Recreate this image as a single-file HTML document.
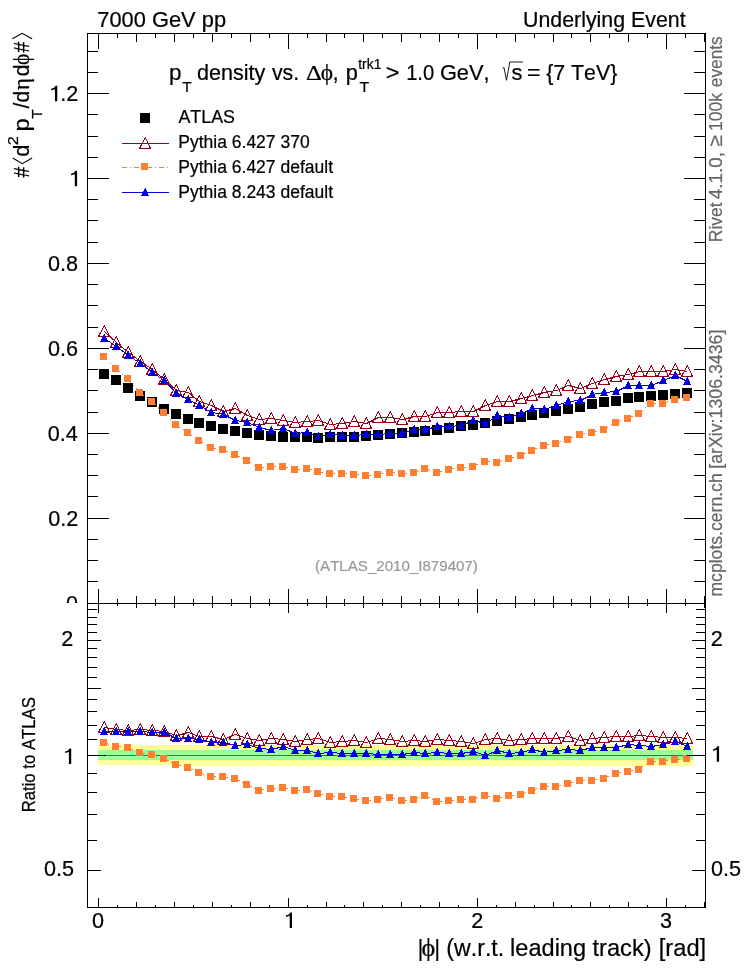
<!DOCTYPE html>
<html><head><meta charset="utf-8"><title>plot</title><style>html,body{margin:0;padding:0;background:#fff}body{width:746px;height:972px;overflow:hidden}svg{will-change:transform;opacity:0.999}</style></head><body>
<svg width="746" height="972" viewBox="0 0 746 972" style="display:block;font-family:'Liberation Sans',sans-serif;font-kerning:none">
<rect width="746" height="972" fill="#fff"/>
<path d="M98,745 H693 V766 H170 V765 H98 Z" fill="#FFFF99" shape-rendering="crispEdges"/>
<rect x="98" y="750" width="595" height="10" fill="#99FF99" shape-rendering="crispEdges"/>
<g shape-rendering="crispEdges">
<rect x="99" y="369" width="10" height="10" fill="#000"/>
<rect x="111" y="375" width="10" height="10" fill="#000"/>
<rect x="123" y="383" width="10" height="10" fill="#000"/>
<rect x="135" y="391" width="10" height="10" fill="#000"/>
<rect x="147" y="397" width="10" height="10" fill="#000"/>
<rect x="159" y="404" width="10" height="10" fill="#000"/>
<rect x="171" y="409" width="10" height="10" fill="#000"/>
<rect x="183" y="414" width="10" height="10" fill="#000"/>
<rect x="194" y="418" width="10" height="10" fill="#000"/>
<rect x="206" y="421" width="10" height="10" fill="#000"/>
<rect x="218" y="424" width="10" height="10" fill="#000"/>
<rect x="230" y="426" width="10" height="10" fill="#000"/>
<rect x="242" y="428" width="10" height="10" fill="#000"/>
<rect x="254" y="430" width="10" height="10" fill="#000"/>
<rect x="266" y="431" width="10" height="10" fill="#000"/>
<rect x="278" y="432" width="10" height="10" fill="#000"/>
<rect x="290" y="432" width="10" height="10" fill="#000"/>
<rect x="302" y="432" width="10" height="10" fill="#000"/>
<rect x="313" y="433" width="10" height="10" fill="#000"/>
<rect x="325" y="432" width="10" height="10" fill="#000"/>
<rect x="337" y="432" width="10" height="10" fill="#000"/>
<rect x="349" y="432" width="10" height="10" fill="#000"/>
<rect x="361" y="431" width="10" height="10" fill="#000"/>
<rect x="373" y="430" width="10" height="10" fill="#000"/>
<rect x="385" y="429" width="10" height="10" fill="#000"/>
<rect x="397" y="428" width="10" height="10" fill="#000"/>
<rect x="409" y="427" width="10" height="10" fill="#000"/>
<rect x="420" y="426" width="10" height="10" fill="#000"/>
<rect x="432" y="425" width="10" height="10" fill="#000"/>
<rect x="444" y="423" width="10" height="10" fill="#000"/>
<rect x="456" y="421" width="10" height="10" fill="#000"/>
<rect x="468" y="420" width="10" height="10" fill="#000"/>
<rect x="480" y="418" width="10" height="10" fill="#000"/>
<rect x="492" y="416" width="10" height="10" fill="#000"/>
<rect x="504" y="414" width="10" height="10" fill="#000"/>
<rect x="516" y="412" width="10" height="10" fill="#000"/>
<rect x="527" y="410" width="10" height="10" fill="#000"/>
<rect x="539" y="408" width="10" height="10" fill="#000"/>
<rect x="551" y="406" width="10" height="10" fill="#000"/>
<rect x="563" y="404" width="10" height="10" fill="#000"/>
<rect x="575" y="402" width="10" height="10" fill="#000"/>
<rect x="587" y="399" width="10" height="10" fill="#000"/>
<rect x="599" y="397" width="10" height="10" fill="#000"/>
<rect x="611" y="396" width="10" height="10" fill="#000"/>
<rect x="623" y="393" width="10" height="10" fill="#000"/>
<rect x="634" y="392" width="10" height="10" fill="#000"/>
<rect x="646" y="391" width="10" height="10" fill="#000"/>
<rect x="658" y="390" width="10" height="10" fill="#000"/>
<rect x="670" y="389" width="10" height="10" fill="#000"/>
<rect x="682" y="388" width="10" height="10" fill="#000"/>
<polyline points="104.5,331.5 116.5,342.5 128.5,352.5 140.5,361.5 152.5,369.5 164.5,379.5 176.5,390.5 188.5,392.5 199.5,401.5 211.5,405.5 223.5,411.5 235.5,408.5 247.5,415.5 259.5,419.5 271.5,418.5 283.5,420.5 295.5,422.5 307.5,421.5 318.5,420.5 330.5,424.5 342.5,423.5 354.5,421.5 366.5,423.5 378.5,417.5 390.5,417.5 402.5,419.5 414.5,416.5 425.5,416.5 437.5,412.5 449.5,412.5 461.5,411.5 473.5,411.5 485.5,405.5 497.5,401.5 509.5,401.5 521.5,398.5 532.5,395.5 544.5,392.5 556.5,390.5 568.5,385.5 580.5,388.5 592.5,383.5 604.5,379.5 616.5,376.5 628.5,374.5 639.5,371.5 651.5,371.5 663.5,371.5 675.5,369.5 687.5,371.5" fill="none" stroke="#99001A" stroke-width="1" />
<polygon points="98.5,336.5 109.5,336.5 104.3,325.5" fill="none" stroke="#99001A" stroke-width="1"/>
<polygon points="110.5,347.5 121.5,347.5 116.3,336.5" fill="none" stroke="#99001A" stroke-width="1"/>
<polygon points="122.5,357.5 133.5,357.5 128.3,346.5" fill="none" stroke="#99001A" stroke-width="1"/>
<polygon points="134.5,366.5 145.5,366.5 140.3,355.5" fill="none" stroke="#99001A" stroke-width="1"/>
<polygon points="146.5,374.5 157.5,374.5 152.3,363.5" fill="none" stroke="#99001A" stroke-width="1"/>
<polygon points="158.5,384.5 169.5,384.5 164.3,373.5" fill="none" stroke="#99001A" stroke-width="1"/>
<polygon points="170.5,395.5 181.5,395.5 176.3,384.5" fill="none" stroke="#99001A" stroke-width="1"/>
<polygon points="182.5,397.5 193.5,397.5 188.3,386.5" fill="none" stroke="#99001A" stroke-width="1"/>
<polygon points="193.5,406.5 204.5,406.5 199.3,395.5" fill="none" stroke="#99001A" stroke-width="1"/>
<polygon points="205.5,410.5 216.5,410.5 211.3,399.5" fill="none" stroke="#99001A" stroke-width="1"/>
<polygon points="217.5,416.5 228.5,416.5 223.3,405.5" fill="none" stroke="#99001A" stroke-width="1"/>
<polygon points="229.5,413.5 240.5,413.5 235.3,402.5" fill="none" stroke="#99001A" stroke-width="1"/>
<polygon points="241.5,420.5 252.5,420.5 247.3,409.5" fill="none" stroke="#99001A" stroke-width="1"/>
<polygon points="253.5,424.5 264.5,424.5 259.3,413.5" fill="none" stroke="#99001A" stroke-width="1"/>
<polygon points="265.5,423.5 276.5,423.5 271.3,412.5" fill="none" stroke="#99001A" stroke-width="1"/>
<polygon points="277.5,425.5 288.5,425.5 283.3,414.5" fill="none" stroke="#99001A" stroke-width="1"/>
<polygon points="289.5,427.5 300.5,427.5 295.3,416.5" fill="none" stroke="#99001A" stroke-width="1"/>
<polygon points="301.5,426.5 312.5,426.5 307.3,415.5" fill="none" stroke="#99001A" stroke-width="1"/>
<polygon points="312.5,425.5 323.5,425.5 318.3,414.5" fill="none" stroke="#99001A" stroke-width="1"/>
<polygon points="324.5,429.5 335.5,429.5 330.3,418.5" fill="none" stroke="#99001A" stroke-width="1"/>
<polygon points="336.5,428.5 347.5,428.5 342.3,417.5" fill="none" stroke="#99001A" stroke-width="1"/>
<polygon points="348.5,426.5 359.5,426.5 354.3,415.5" fill="none" stroke="#99001A" stroke-width="1"/>
<polygon points="360.5,428.5 371.5,428.5 366.3,417.5" fill="none" stroke="#99001A" stroke-width="1"/>
<polygon points="372.5,422.5 383.5,422.5 378.3,411.5" fill="none" stroke="#99001A" stroke-width="1"/>
<polygon points="384.5,422.5 395.5,422.5 390.3,411.5" fill="none" stroke="#99001A" stroke-width="1"/>
<polygon points="396.5,424.5 407.5,424.5 402.3,413.5" fill="none" stroke="#99001A" stroke-width="1"/>
<polygon points="408.5,421.5 419.5,421.5 414.3,410.5" fill="none" stroke="#99001A" stroke-width="1"/>
<polygon points="419.5,421.5 430.5,421.5 425.3,410.5" fill="none" stroke="#99001A" stroke-width="1"/>
<polygon points="431.5,417.5 442.5,417.5 437.3,406.5" fill="none" stroke="#99001A" stroke-width="1"/>
<polygon points="443.5,417.5 454.5,417.5 449.3,406.5" fill="none" stroke="#99001A" stroke-width="1"/>
<polygon points="455.5,416.5 466.5,416.5 461.3,405.5" fill="none" stroke="#99001A" stroke-width="1"/>
<polygon points="467.5,416.5 478.5,416.5 473.3,405.5" fill="none" stroke="#99001A" stroke-width="1"/>
<polygon points="479.5,410.5 490.5,410.5 485.3,399.5" fill="none" stroke="#99001A" stroke-width="1"/>
<polygon points="491.5,406.5 502.5,406.5 497.3,395.5" fill="none" stroke="#99001A" stroke-width="1"/>
<polygon points="503.5,406.5 514.5,406.5 509.3,395.5" fill="none" stroke="#99001A" stroke-width="1"/>
<polygon points="515.5,403.5 526.5,403.5 521.3,392.5" fill="none" stroke="#99001A" stroke-width="1"/>
<polygon points="526.5,400.5 537.5,400.5 532.3,389.5" fill="none" stroke="#99001A" stroke-width="1"/>
<polygon points="538.5,397.5 549.5,397.5 544.3,386.5" fill="none" stroke="#99001A" stroke-width="1"/>
<polygon points="550.5,395.5 561.5,395.5 556.3,384.5" fill="none" stroke="#99001A" stroke-width="1"/>
<polygon points="562.5,390.5 573.5,390.5 568.3,379.5" fill="none" stroke="#99001A" stroke-width="1"/>
<polygon points="574.5,393.5 585.5,393.5 580.3,382.5" fill="none" stroke="#99001A" stroke-width="1"/>
<polygon points="586.5,388.5 597.5,388.5 592.3,377.5" fill="none" stroke="#99001A" stroke-width="1"/>
<polygon points="598.5,384.5 609.5,384.5 604.3,373.5" fill="none" stroke="#99001A" stroke-width="1"/>
<polygon points="610.5,381.5 621.5,381.5 616.3,370.5" fill="none" stroke="#99001A" stroke-width="1"/>
<polygon points="622.5,379.5 633.5,379.5 628.3,368.5" fill="none" stroke="#99001A" stroke-width="1"/>
<polygon points="633.5,376.5 644.5,376.5 639.3,365.5" fill="none" stroke="#99001A" stroke-width="1"/>
<polygon points="645.5,376.5 656.5,376.5 651.3,365.5" fill="none" stroke="#99001A" stroke-width="1"/>
<polygon points="657.5,376.5 668.5,376.5 663.3,365.5" fill="none" stroke="#99001A" stroke-width="1"/>
<polygon points="669.5,374.5 680.5,374.5 675.3,363.5" fill="none" stroke="#99001A" stroke-width="1"/>
<polygon points="681.5,376.5 692.5,376.5 687.3,365.5" fill="none" stroke="#99001A" stroke-width="1"/>
<line x1="103.5" y1="356.5" x2="115.5" y2="368.5" stroke="#FF7F32" stroke-width="1" stroke-dasharray="5.6 3.2 1.3 3"/>
<line x1="115.5" y1="368.5" x2="127.5" y2="378.5" stroke="#FF7F32" stroke-width="1" stroke-dasharray="5.6 3.2 1.3 3"/>
<line x1="127.5" y1="378.5" x2="139.5" y2="392.5" stroke="#FF7F32" stroke-width="1" stroke-dasharray="5.6 3.2 1.3 3"/>
<line x1="139.5" y1="392.5" x2="151.5" y2="401.5" stroke="#FF7F32" stroke-width="1" stroke-dasharray="5.6 3.2 1.3 3"/>
<line x1="151.5" y1="401.5" x2="163.5" y2="412.5" stroke="#FF7F32" stroke-width="1" stroke-dasharray="5.6 3.2 1.3 3"/>
<line x1="163.5" y1="412.5" x2="175.5" y2="424.5" stroke="#FF7F32" stroke-width="1" stroke-dasharray="5.6 3.2 1.3 3"/>
<line x1="175.5" y1="424.5" x2="187.5" y2="432.5" stroke="#FF7F32" stroke-width="1" stroke-dasharray="5.6 3.2 1.3 3"/>
<line x1="187.5" y1="432.5" x2="198.5" y2="440.5" stroke="#FF7F32" stroke-width="1" stroke-dasharray="5.6 3.2 1.3 3"/>
<line x1="198.5" y1="440.5" x2="210.5" y2="447.5" stroke="#FF7F32" stroke-width="1" stroke-dasharray="5.6 3.2 1.3 3"/>
<line x1="210.5" y1="447.5" x2="222.5" y2="449.5" stroke="#FF7F32" stroke-width="1" stroke-dasharray="5.6 3.2 1.3 3"/>
<line x1="222.5" y1="449.5" x2="234.5" y2="454.5" stroke="#FF7F32" stroke-width="1" stroke-dasharray="5.6 3.2 1.3 3"/>
<line x1="234.5" y1="454.5" x2="246.5" y2="460.5" stroke="#FF7F32" stroke-width="1" stroke-dasharray="5.6 3.2 1.3 3"/>
<line x1="246.5" y1="460.5" x2="258.5" y2="467.5" stroke="#FF7F32" stroke-width="1" stroke-dasharray="5.6 3.2 1.3 3"/>
<line x1="258.5" y1="467.5" x2="270.5" y2="466.5" stroke="#FF7F32" stroke-width="1" stroke-dasharray="5.6 3.2 1.3 3"/>
<line x1="270.5" y1="466.5" x2="282.5" y2="466.5" stroke="#FF7F32" stroke-width="1" stroke-dasharray="5.6 3.2 1.3 3"/>
<line x1="282.5" y1="466.5" x2="294.5" y2="469.5" stroke="#FF7F32" stroke-width="1" stroke-dasharray="5.6 3.2 1.3 3"/>
<line x1="294.5" y1="469.5" x2="306.5" y2="468.5" stroke="#FF7F32" stroke-width="1" stroke-dasharray="5.6 3.2 1.3 3"/>
<line x1="306.5" y1="468.5" x2="317.5" y2="471.5" stroke="#FF7F32" stroke-width="1" stroke-dasharray="5.6 3.2 1.3 3"/>
<line x1="317.5" y1="471.5" x2="329.5" y2="473.5" stroke="#FF7F32" stroke-width="1" stroke-dasharray="5.6 3.2 1.3 3"/>
<line x1="329.5" y1="473.5" x2="341.5" y2="473.5" stroke="#FF7F32" stroke-width="1" stroke-dasharray="5.6 3.2 1.3 3"/>
<line x1="341.5" y1="473.5" x2="353.5" y2="474.5" stroke="#FF7F32" stroke-width="1" stroke-dasharray="5.6 3.2 1.3 3"/>
<line x1="353.5" y1="474.5" x2="365.5" y2="475.5" stroke="#FF7F32" stroke-width="1" stroke-dasharray="5.6 3.2 1.3 3"/>
<line x1="365.5" y1="475.5" x2="377.5" y2="474.5" stroke="#FF7F32" stroke-width="1" stroke-dasharray="5.6 3.2 1.3 3"/>
<line x1="377.5" y1="474.5" x2="389.5" y2="472.5" stroke="#FF7F32" stroke-width="1" stroke-dasharray="5.6 3.2 1.3 3"/>
<line x1="389.5" y1="472.5" x2="401.5" y2="473.5" stroke="#FF7F32" stroke-width="1" stroke-dasharray="5.6 3.2 1.3 3"/>
<line x1="401.5" y1="473.5" x2="413.5" y2="472.5" stroke="#FF7F32" stroke-width="1" stroke-dasharray="5.6 3.2 1.3 3"/>
<line x1="413.5" y1="472.5" x2="424.5" y2="468.5" stroke="#FF7F32" stroke-width="1" stroke-dasharray="5.6 3.2 1.3 3"/>
<line x1="424.5" y1="468.5" x2="436.5" y2="472.5" stroke="#FF7F32" stroke-width="1" stroke-dasharray="5.6 3.2 1.3 3"/>
<line x1="436.5" y1="472.5" x2="448.5" y2="469.5" stroke="#FF7F32" stroke-width="1" stroke-dasharray="5.6 3.2 1.3 3"/>
<line x1="448.5" y1="469.5" x2="460.5" y2="467.5" stroke="#FF7F32" stroke-width="1" stroke-dasharray="5.6 3.2 1.3 3"/>
<line x1="460.5" y1="467.5" x2="472.5" y2="466.5" stroke="#FF7F32" stroke-width="1" stroke-dasharray="5.6 3.2 1.3 3"/>
<line x1="472.5" y1="466.5" x2="484.5" y2="461.5" stroke="#FF7F32" stroke-width="1" stroke-dasharray="5.6 3.2 1.3 3"/>
<line x1="484.5" y1="461.5" x2="496.5" y2="462.5" stroke="#FF7F32" stroke-width="1" stroke-dasharray="5.6 3.2 1.3 3"/>
<line x1="496.5" y1="462.5" x2="508.5" y2="458.5" stroke="#FF7F32" stroke-width="1" stroke-dasharray="5.6 3.2 1.3 3"/>
<line x1="508.5" y1="458.5" x2="520.5" y2="455.5" stroke="#FF7F32" stroke-width="1" stroke-dasharray="5.6 3.2 1.3 3"/>
<line x1="520.5" y1="455.5" x2="531.5" y2="450.5" stroke="#FF7F32" stroke-width="1" stroke-dasharray="5.6 3.2 1.3 3"/>
<line x1="531.5" y1="450.5" x2="543.5" y2="445.5" stroke="#FF7F32" stroke-width="1" stroke-dasharray="5.6 3.2 1.3 3"/>
<line x1="543.5" y1="445.5" x2="555.5" y2="443.5" stroke="#FF7F32" stroke-width="1" stroke-dasharray="5.6 3.2 1.3 3"/>
<line x1="555.5" y1="443.5" x2="567.5" y2="439.5" stroke="#FF7F32" stroke-width="1" stroke-dasharray="5.6 3.2 1.3 3"/>
<line x1="567.5" y1="439.5" x2="579.5" y2="434.5" stroke="#FF7F32" stroke-width="1" stroke-dasharray="5.6 3.2 1.3 3"/>
<line x1="579.5" y1="434.5" x2="591.5" y2="432.5" stroke="#FF7F32" stroke-width="1" stroke-dasharray="5.6 3.2 1.3 3"/>
<line x1="591.5" y1="432.5" x2="603.5" y2="429.5" stroke="#FF7F32" stroke-width="1" stroke-dasharray="5.6 3.2 1.3 3"/>
<line x1="603.5" y1="429.5" x2="615.5" y2="422.5" stroke="#FF7F32" stroke-width="1" stroke-dasharray="5.6 3.2 1.3 3"/>
<line x1="615.5" y1="422.5" x2="627.5" y2="418.5" stroke="#FF7F32" stroke-width="1" stroke-dasharray="5.6 3.2 1.3 3"/>
<line x1="627.5" y1="418.5" x2="638.5" y2="413.5" stroke="#FF7F32" stroke-width="1" stroke-dasharray="5.6 3.2 1.3 3"/>
<line x1="638.5" y1="413.5" x2="650.5" y2="403.5" stroke="#FF7F32" stroke-width="1" stroke-dasharray="5.6 3.2 1.3 3"/>
<line x1="650.5" y1="403.5" x2="662.5" y2="403.5" stroke="#FF7F32" stroke-width="1" stroke-dasharray="5.6 3.2 1.3 3"/>
<line x1="662.5" y1="403.5" x2="674.5" y2="399.5" stroke="#FF7F32" stroke-width="1" stroke-dasharray="5.6 3.2 1.3 3"/>
<line x1="674.5" y1="399.5" x2="686.5" y2="397.5" stroke="#FF7F32" stroke-width="1" stroke-dasharray="5.6 3.2 1.3 3"/>
<rect x="100" y="353" width="7" height="7" fill="#FF7F32"/>
<rect x="112" y="365" width="7" height="7" fill="#FF7F32"/>
<rect x="124" y="375" width="7" height="7" fill="#FF7F32"/>
<rect x="136" y="389" width="7" height="7" fill="#FF7F32"/>
<rect x="148" y="398" width="7" height="7" fill="#FF7F32"/>
<rect x="160" y="409" width="7" height="7" fill="#FF7F32"/>
<rect x="172" y="421" width="7" height="7" fill="#FF7F32"/>
<rect x="184" y="429" width="7" height="7" fill="#FF7F32"/>
<rect x="195" y="437" width="7" height="7" fill="#FF7F32"/>
<rect x="207" y="444" width="7" height="7" fill="#FF7F32"/>
<rect x="219" y="446" width="7" height="7" fill="#FF7F32"/>
<rect x="231" y="451" width="7" height="7" fill="#FF7F32"/>
<rect x="243" y="457" width="7" height="7" fill="#FF7F32"/>
<rect x="255" y="464" width="7" height="7" fill="#FF7F32"/>
<rect x="267" y="463" width="7" height="7" fill="#FF7F32"/>
<rect x="279" y="463" width="7" height="7" fill="#FF7F32"/>
<rect x="291" y="466" width="7" height="7" fill="#FF7F32"/>
<rect x="303" y="465" width="7" height="7" fill="#FF7F32"/>
<rect x="314" y="468" width="7" height="7" fill="#FF7F32"/>
<rect x="326" y="470" width="7" height="7" fill="#FF7F32"/>
<rect x="338" y="470" width="7" height="7" fill="#FF7F32"/>
<rect x="350" y="471" width="7" height="7" fill="#FF7F32"/>
<rect x="362" y="472" width="7" height="7" fill="#FF7F32"/>
<rect x="374" y="471" width="7" height="7" fill="#FF7F32"/>
<rect x="386" y="469" width="7" height="7" fill="#FF7F32"/>
<rect x="398" y="470" width="7" height="7" fill="#FF7F32"/>
<rect x="410" y="469" width="7" height="7" fill="#FF7F32"/>
<rect x="421" y="465" width="7" height="7" fill="#FF7F32"/>
<rect x="433" y="469" width="7" height="7" fill="#FF7F32"/>
<rect x="445" y="466" width="7" height="7" fill="#FF7F32"/>
<rect x="457" y="464" width="7" height="7" fill="#FF7F32"/>
<rect x="469" y="463" width="7" height="7" fill="#FF7F32"/>
<rect x="481" y="458" width="7" height="7" fill="#FF7F32"/>
<rect x="493" y="459" width="7" height="7" fill="#FF7F32"/>
<rect x="505" y="455" width="7" height="7" fill="#FF7F32"/>
<rect x="517" y="452" width="7" height="7" fill="#FF7F32"/>
<rect x="528" y="447" width="7" height="7" fill="#FF7F32"/>
<rect x="540" y="442" width="7" height="7" fill="#FF7F32"/>
<rect x="552" y="440" width="7" height="7" fill="#FF7F32"/>
<rect x="564" y="436" width="7" height="7" fill="#FF7F32"/>
<rect x="576" y="431" width="7" height="7" fill="#FF7F32"/>
<rect x="588" y="429" width="7" height="7" fill="#FF7F32"/>
<rect x="600" y="426" width="7" height="7" fill="#FF7F32"/>
<rect x="612" y="419" width="7" height="7" fill="#FF7F32"/>
<rect x="624" y="415" width="7" height="7" fill="#FF7F32"/>
<rect x="635" y="410" width="7" height="7" fill="#FF7F32"/>
<rect x="647" y="400" width="7" height="7" fill="#FF7F32"/>
<rect x="659" y="400" width="7" height="7" fill="#FF7F32"/>
<rect x="671" y="396" width="7" height="7" fill="#FF7F32"/>
<rect x="683" y="394" width="7" height="7" fill="#FF7F32"/>
<polyline points="104.5,338.5 116.5,346.5 128.5,355.5 140.5,363.5 152.5,372.5 164.5,380.5 176.5,393.5 188.5,399.5 199.5,405.5 211.5,412.5 223.5,414.5 235.5,420.5 247.5,422.5 259.5,427.5 271.5,430.5 283.5,428.5 295.5,433.5 307.5,432.5 318.5,436.5 330.5,434.5 342.5,435.5 354.5,435.5 366.5,434.5 378.5,434.5 390.5,433.5 402.5,433.5 414.5,429.5 425.5,429.5 437.5,426.5 449.5,426.5 461.5,425.5 473.5,420.5 485.5,423.5 497.5,415.5 509.5,417.5 521.5,413.5 532.5,408.5 544.5,409.5 556.5,405.5 568.5,401.5 580.5,400.5 592.5,394.5 604.5,392.5 616.5,391.5 628.5,385.5 639.5,385.5 651.5,385.5 663.5,380.5 675.5,375.5 687.5,381.5" fill="none" stroke="#0000E0" stroke-width="1" />
<polygon points="100,342 108,342 104.5,333.6" fill="#0000E0"/>
<polygon points="112,350 120,350 116.5,341.6" fill="#0000E0"/>
<polygon points="124,359 132,359 128.5,350.6" fill="#0000E0"/>
<polygon points="136,367 144,367 140.5,358.6" fill="#0000E0"/>
<polygon points="148,376 156,376 152.5,367.6" fill="#0000E0"/>
<polygon points="160,384 168,384 164.5,375.6" fill="#0000E0"/>
<polygon points="172,397 180,397 176.5,388.6" fill="#0000E0"/>
<polygon points="184,403 192,403 188.5,394.6" fill="#0000E0"/>
<polygon points="195,409 203,409 199.5,400.6" fill="#0000E0"/>
<polygon points="207,416 215,416 211.5,407.6" fill="#0000E0"/>
<polygon points="219,418 227,418 223.5,409.6" fill="#0000E0"/>
<polygon points="231,424 239,424 235.5,415.6" fill="#0000E0"/>
<polygon points="243,426 251,426 247.5,417.6" fill="#0000E0"/>
<polygon points="255,431 263,431 259.5,422.6" fill="#0000E0"/>
<polygon points="267,434 275,434 271.5,425.6" fill="#0000E0"/>
<polygon points="279,432 287,432 283.5,423.6" fill="#0000E0"/>
<polygon points="291,437 299,437 295.5,428.6" fill="#0000E0"/>
<polygon points="303,436 311,436 307.5,427.6" fill="#0000E0"/>
<polygon points="314,440 322,440 318.5,431.6" fill="#0000E0"/>
<polygon points="326,438 334,438 330.5,429.6" fill="#0000E0"/>
<polygon points="338,439 346,439 342.5,430.6" fill="#0000E0"/>
<polygon points="350,439 358,439 354.5,430.6" fill="#0000E0"/>
<polygon points="362,438 370,438 366.5,429.6" fill="#0000E0"/>
<polygon points="374,438 382,438 378.5,429.6" fill="#0000E0"/>
<polygon points="386,437 394,437 390.5,428.6" fill="#0000E0"/>
<polygon points="398,437 406,437 402.5,428.6" fill="#0000E0"/>
<polygon points="410,433 418,433 414.5,424.6" fill="#0000E0"/>
<polygon points="421,433 429,433 425.5,424.6" fill="#0000E0"/>
<polygon points="433,430 441,430 437.5,421.6" fill="#0000E0"/>
<polygon points="445,430 453,430 449.5,421.6" fill="#0000E0"/>
<polygon points="457,429 465,429 461.5,420.6" fill="#0000E0"/>
<polygon points="469,424 477,424 473.5,415.6" fill="#0000E0"/>
<polygon points="481,427 489,427 485.5,418.6" fill="#0000E0"/>
<polygon points="493,419 501,419 497.5,410.6" fill="#0000E0"/>
<polygon points="505,421 513,421 509.5,412.6" fill="#0000E0"/>
<polygon points="517,417 525,417 521.5,408.6" fill="#0000E0"/>
<polygon points="528,412 536,412 532.5,403.6" fill="#0000E0"/>
<polygon points="540,413 548,413 544.5,404.6" fill="#0000E0"/>
<polygon points="552,409 560,409 556.5,400.6" fill="#0000E0"/>
<polygon points="564,405 572,405 568.5,396.6" fill="#0000E0"/>
<polygon points="576,404 584,404 580.5,395.6" fill="#0000E0"/>
<polygon points="588,398 596,398 592.5,389.6" fill="#0000E0"/>
<polygon points="600,396 608,396 604.5,387.6" fill="#0000E0"/>
<polygon points="612,395 620,395 616.5,386.6" fill="#0000E0"/>
<polygon points="624,389 632,389 628.5,380.6" fill="#0000E0"/>
<polygon points="635,389 643,389 639.5,380.6" fill="#0000E0"/>
<polygon points="647,389 655,389 651.5,380.6" fill="#0000E0"/>
<polygon points="659,384 667,384 663.5,375.6" fill="#0000E0"/>
<polygon points="671,379 679,379 675.5,370.6" fill="#0000E0"/>
<polygon points="683,385 691,385 687.5,376.6" fill="#0000E0"/>
<line x1="87.5" y1="755.5" x2="705.5" y2="755.5" stroke="#000" stroke-width="0.55" shape-rendering="geometricPrecision"/>
<polyline points="104.5,727.5 116.5,729.5 128.5,730.5 140.5,729.5 152.5,730.5 164.5,731.5 176.5,735.5 188.5,732.5 199.5,736.5 211.5,736.5 223.5,739.5 235.5,734.5 247.5,738.5 259.5,740.5 271.5,738.5 283.5,739.5 295.5,741.5 307.5,739.5 318.5,738.5 330.5,742.5 342.5,741.5 354.5,740.5 366.5,742.5 378.5,738.5 390.5,739.5 402.5,741.5 414.5,740.5 425.5,741.5 437.5,739.5 449.5,740.5 461.5,741.5 473.5,743.5 485.5,739.5 497.5,738.5 509.5,740.5 521.5,739.5 532.5,738.5 544.5,738.5 556.5,738.5 568.5,736.5 580.5,740.5 592.5,738.5 604.5,737.5 616.5,736.5 628.5,736.5 639.5,735.5 651.5,736.5 663.5,737.5 675.5,737.5 687.5,738.5" fill="none" stroke="#99001A" stroke-width="1" />
<polygon points="98.5,732.5 109.5,732.5 104.3,721.5" fill="none" stroke="#99001A" stroke-width="1"/>
<polygon points="110.5,734.5 121.5,734.5 116.3,723.5" fill="none" stroke="#99001A" stroke-width="1"/>
<polygon points="122.5,735.5 133.5,735.5 128.3,724.5" fill="none" stroke="#99001A" stroke-width="1"/>
<polygon points="134.5,734.5 145.5,734.5 140.3,723.5" fill="none" stroke="#99001A" stroke-width="1"/>
<polygon points="146.5,735.5 157.5,735.5 152.3,724.5" fill="none" stroke="#99001A" stroke-width="1"/>
<polygon points="158.5,736.5 169.5,736.5 164.3,725.5" fill="none" stroke="#99001A" stroke-width="1"/>
<polygon points="170.5,740.5 181.5,740.5 176.3,729.5" fill="none" stroke="#99001A" stroke-width="1"/>
<polygon points="182.5,737.5 193.5,737.5 188.3,726.5" fill="none" stroke="#99001A" stroke-width="1"/>
<polygon points="193.5,741.5 204.5,741.5 199.3,730.5" fill="none" stroke="#99001A" stroke-width="1"/>
<polygon points="205.5,741.5 216.5,741.5 211.3,730.5" fill="none" stroke="#99001A" stroke-width="1"/>
<polygon points="217.5,744.5 228.5,744.5 223.3,733.5" fill="none" stroke="#99001A" stroke-width="1"/>
<polygon points="229.5,739.5 240.5,739.5 235.3,728.5" fill="none" stroke="#99001A" stroke-width="1"/>
<polygon points="241.5,743.5 252.5,743.5 247.3,732.5" fill="none" stroke="#99001A" stroke-width="1"/>
<polygon points="253.5,745.5 264.5,745.5 259.3,734.5" fill="none" stroke="#99001A" stroke-width="1"/>
<polygon points="265.5,743.5 276.5,743.5 271.3,732.5" fill="none" stroke="#99001A" stroke-width="1"/>
<polygon points="277.5,744.5 288.5,744.5 283.3,733.5" fill="none" stroke="#99001A" stroke-width="1"/>
<polygon points="289.5,746.5 300.5,746.5 295.3,735.5" fill="none" stroke="#99001A" stroke-width="1"/>
<polygon points="301.5,744.5 312.5,744.5 307.3,733.5" fill="none" stroke="#99001A" stroke-width="1"/>
<polygon points="312.5,743.5 323.5,743.5 318.3,732.5" fill="none" stroke="#99001A" stroke-width="1"/>
<polygon points="324.5,747.5 335.5,747.5 330.3,736.5" fill="none" stroke="#99001A" stroke-width="1"/>
<polygon points="336.5,746.5 347.5,746.5 342.3,735.5" fill="none" stroke="#99001A" stroke-width="1"/>
<polygon points="348.5,745.5 359.5,745.5 354.3,734.5" fill="none" stroke="#99001A" stroke-width="1"/>
<polygon points="360.5,747.5 371.5,747.5 366.3,736.5" fill="none" stroke="#99001A" stroke-width="1"/>
<polygon points="372.5,743.5 383.5,743.5 378.3,732.5" fill="none" stroke="#99001A" stroke-width="1"/>
<polygon points="384.5,744.5 395.5,744.5 390.3,733.5" fill="none" stroke="#99001A" stroke-width="1"/>
<polygon points="396.5,746.5 407.5,746.5 402.3,735.5" fill="none" stroke="#99001A" stroke-width="1"/>
<polygon points="408.5,745.5 419.5,745.5 414.3,734.5" fill="none" stroke="#99001A" stroke-width="1"/>
<polygon points="419.5,746.5 430.5,746.5 425.3,735.5" fill="none" stroke="#99001A" stroke-width="1"/>
<polygon points="431.5,744.5 442.5,744.5 437.3,733.5" fill="none" stroke="#99001A" stroke-width="1"/>
<polygon points="443.5,745.5 454.5,745.5 449.3,734.5" fill="none" stroke="#99001A" stroke-width="1"/>
<polygon points="455.5,746.5 466.5,746.5 461.3,735.5" fill="none" stroke="#99001A" stroke-width="1"/>
<polygon points="467.5,748.5 478.5,748.5 473.3,737.5" fill="none" stroke="#99001A" stroke-width="1"/>
<polygon points="479.5,744.5 490.5,744.5 485.3,733.5" fill="none" stroke="#99001A" stroke-width="1"/>
<polygon points="491.5,743.5 502.5,743.5 497.3,732.5" fill="none" stroke="#99001A" stroke-width="1"/>
<polygon points="503.5,745.5 514.5,745.5 509.3,734.5" fill="none" stroke="#99001A" stroke-width="1"/>
<polygon points="515.5,744.5 526.5,744.5 521.3,733.5" fill="none" stroke="#99001A" stroke-width="1"/>
<polygon points="526.5,743.5 537.5,743.5 532.3,732.5" fill="none" stroke="#99001A" stroke-width="1"/>
<polygon points="538.5,743.5 549.5,743.5 544.3,732.5" fill="none" stroke="#99001A" stroke-width="1"/>
<polygon points="550.5,743.5 561.5,743.5 556.3,732.5" fill="none" stroke="#99001A" stroke-width="1"/>
<polygon points="562.5,741.5 573.5,741.5 568.3,730.5" fill="none" stroke="#99001A" stroke-width="1"/>
<polygon points="574.5,745.5 585.5,745.5 580.3,734.5" fill="none" stroke="#99001A" stroke-width="1"/>
<polygon points="586.5,743.5 597.5,743.5 592.3,732.5" fill="none" stroke="#99001A" stroke-width="1"/>
<polygon points="598.5,742.5 609.5,742.5 604.3,731.5" fill="none" stroke="#99001A" stroke-width="1"/>
<polygon points="610.5,741.5 621.5,741.5 616.3,730.5" fill="none" stroke="#99001A" stroke-width="1"/>
<polygon points="622.5,741.5 633.5,741.5 628.3,730.5" fill="none" stroke="#99001A" stroke-width="1"/>
<polygon points="633.5,740.5 644.5,740.5 639.3,729.5" fill="none" stroke="#99001A" stroke-width="1"/>
<polygon points="645.5,741.5 656.5,741.5 651.3,730.5" fill="none" stroke="#99001A" stroke-width="1"/>
<polygon points="657.5,742.5 668.5,742.5 663.3,731.5" fill="none" stroke="#99001A" stroke-width="1"/>
<polygon points="669.5,742.5 680.5,742.5 675.3,731.5" fill="none" stroke="#99001A" stroke-width="1"/>
<polygon points="681.5,743.5 692.5,743.5 687.3,732.5" fill="none" stroke="#99001A" stroke-width="1"/>
<line x1="103.5" y1="742.5" x2="115.5" y2="746.5" stroke="#FF7F32" stroke-width="1" stroke-dasharray="5.6 3.2 1.3 3"/>
<line x1="115.5" y1="746.5" x2="127.5" y2="747.5" stroke="#FF7F32" stroke-width="1" stroke-dasharray="5.6 3.2 1.3 3"/>
<line x1="127.5" y1="747.5" x2="139.5" y2="752.5" stroke="#FF7F32" stroke-width="1" stroke-dasharray="5.6 3.2 1.3 3"/>
<line x1="139.5" y1="752.5" x2="151.5" y2="754.5" stroke="#FF7F32" stroke-width="1" stroke-dasharray="5.6 3.2 1.3 3"/>
<line x1="151.5" y1="754.5" x2="163.5" y2="758.5" stroke="#FF7F32" stroke-width="1" stroke-dasharray="5.6 3.2 1.3 3"/>
<line x1="163.5" y1="758.5" x2="175.5" y2="764.5" stroke="#FF7F32" stroke-width="1" stroke-dasharray="5.6 3.2 1.3 3"/>
<line x1="175.5" y1="764.5" x2="187.5" y2="767.5" stroke="#FF7F32" stroke-width="1" stroke-dasharray="5.6 3.2 1.3 3"/>
<line x1="187.5" y1="767.5" x2="198.5" y2="772.5" stroke="#FF7F32" stroke-width="1" stroke-dasharray="5.6 3.2 1.3 3"/>
<line x1="198.5" y1="772.5" x2="210.5" y2="776.5" stroke="#FF7F32" stroke-width="1" stroke-dasharray="5.6 3.2 1.3 3"/>
<line x1="210.5" y1="776.5" x2="222.5" y2="776.5" stroke="#FF7F32" stroke-width="1" stroke-dasharray="5.6 3.2 1.3 3"/>
<line x1="222.5" y1="776.5" x2="234.5" y2="778.5" stroke="#FF7F32" stroke-width="1" stroke-dasharray="5.6 3.2 1.3 3"/>
<line x1="234.5" y1="778.5" x2="246.5" y2="784.5" stroke="#FF7F32" stroke-width="1" stroke-dasharray="5.6 3.2 1.3 3"/>
<line x1="246.5" y1="784.5" x2="258.5" y2="790.5" stroke="#FF7F32" stroke-width="1" stroke-dasharray="5.6 3.2 1.3 3"/>
<line x1="258.5" y1="790.5" x2="270.5" y2="788.5" stroke="#FF7F32" stroke-width="1" stroke-dasharray="5.6 3.2 1.3 3"/>
<line x1="270.5" y1="788.5" x2="282.5" y2="787.5" stroke="#FF7F32" stroke-width="1" stroke-dasharray="5.6 3.2 1.3 3"/>
<line x1="282.5" y1="787.5" x2="294.5" y2="790.5" stroke="#FF7F32" stroke-width="1" stroke-dasharray="5.6 3.2 1.3 3"/>
<line x1="294.5" y1="790.5" x2="306.5" y2="789.5" stroke="#FF7F32" stroke-width="1" stroke-dasharray="5.6 3.2 1.3 3"/>
<line x1="306.5" y1="789.5" x2="317.5" y2="793.5" stroke="#FF7F32" stroke-width="1" stroke-dasharray="5.6 3.2 1.3 3"/>
<line x1="317.5" y1="793.5" x2="329.5" y2="796.5" stroke="#FF7F32" stroke-width="1" stroke-dasharray="5.6 3.2 1.3 3"/>
<line x1="329.5" y1="796.5" x2="341.5" y2="796.5" stroke="#FF7F32" stroke-width="1" stroke-dasharray="5.6 3.2 1.3 3"/>
<line x1="341.5" y1="796.5" x2="353.5" y2="798.5" stroke="#FF7F32" stroke-width="1" stroke-dasharray="5.6 3.2 1.3 3"/>
<line x1="353.5" y1="798.5" x2="365.5" y2="800.5" stroke="#FF7F32" stroke-width="1" stroke-dasharray="5.6 3.2 1.3 3"/>
<line x1="365.5" y1="800.5" x2="377.5" y2="799.5" stroke="#FF7F32" stroke-width="1" stroke-dasharray="5.6 3.2 1.3 3"/>
<line x1="377.5" y1="799.5" x2="389.5" y2="797.5" stroke="#FF7F32" stroke-width="1" stroke-dasharray="5.6 3.2 1.3 3"/>
<line x1="389.5" y1="797.5" x2="401.5" y2="800.5" stroke="#FF7F32" stroke-width="1" stroke-dasharray="5.6 3.2 1.3 3"/>
<line x1="401.5" y1="800.5" x2="413.5" y2="799.5" stroke="#FF7F32" stroke-width="1" stroke-dasharray="5.6 3.2 1.3 3"/>
<line x1="413.5" y1="799.5" x2="424.5" y2="795.5" stroke="#FF7F32" stroke-width="1" stroke-dasharray="5.6 3.2 1.3 3"/>
<line x1="424.5" y1="795.5" x2="436.5" y2="801.5" stroke="#FF7F32" stroke-width="1" stroke-dasharray="5.6 3.2 1.3 3"/>
<line x1="436.5" y1="801.5" x2="448.5" y2="800.5" stroke="#FF7F32" stroke-width="1" stroke-dasharray="5.6 3.2 1.3 3"/>
<line x1="448.5" y1="800.5" x2="460.5" y2="799.5" stroke="#FF7F32" stroke-width="1" stroke-dasharray="5.6 3.2 1.3 3"/>
<line x1="460.5" y1="799.5" x2="472.5" y2="799.5" stroke="#FF7F32" stroke-width="1" stroke-dasharray="5.6 3.2 1.3 3"/>
<line x1="472.5" y1="799.5" x2="484.5" y2="795.5" stroke="#FF7F32" stroke-width="1" stroke-dasharray="5.6 3.2 1.3 3"/>
<line x1="484.5" y1="795.5" x2="496.5" y2="798.5" stroke="#FF7F32" stroke-width="1" stroke-dasharray="5.6 3.2 1.3 3"/>
<line x1="496.5" y1="798.5" x2="508.5" y2="795.5" stroke="#FF7F32" stroke-width="1" stroke-dasharray="5.6 3.2 1.3 3"/>
<line x1="508.5" y1="795.5" x2="520.5" y2="794.5" stroke="#FF7F32" stroke-width="1" stroke-dasharray="5.6 3.2 1.3 3"/>
<line x1="520.5" y1="794.5" x2="531.5" y2="790.5" stroke="#FF7F32" stroke-width="1" stroke-dasharray="5.6 3.2 1.3 3"/>
<line x1="531.5" y1="790.5" x2="543.5" y2="786.5" stroke="#FF7F32" stroke-width="1" stroke-dasharray="5.6 3.2 1.3 3"/>
<line x1="543.5" y1="786.5" x2="555.5" y2="786.5" stroke="#FF7F32" stroke-width="1" stroke-dasharray="5.6 3.2 1.3 3"/>
<line x1="555.5" y1="786.5" x2="567.5" y2="783.5" stroke="#FF7F32" stroke-width="1" stroke-dasharray="5.6 3.2 1.3 3"/>
<line x1="567.5" y1="783.5" x2="579.5" y2="780.5" stroke="#FF7F32" stroke-width="1" stroke-dasharray="5.6 3.2 1.3 3"/>
<line x1="579.5" y1="780.5" x2="591.5" y2="780.5" stroke="#FF7F32" stroke-width="1" stroke-dasharray="5.6 3.2 1.3 3"/>
<line x1="591.5" y1="780.5" x2="603.5" y2="778.5" stroke="#FF7F32" stroke-width="1" stroke-dasharray="5.6 3.2 1.3 3"/>
<line x1="603.5" y1="778.5" x2="615.5" y2="773.5" stroke="#FF7F32" stroke-width="1" stroke-dasharray="5.6 3.2 1.3 3"/>
<line x1="615.5" y1="773.5" x2="627.5" y2="771.5" stroke="#FF7F32" stroke-width="1" stroke-dasharray="5.6 3.2 1.3 3"/>
<line x1="627.5" y1="771.5" x2="638.5" y2="769.5" stroke="#FF7F32" stroke-width="1" stroke-dasharray="5.6 3.2 1.3 3"/>
<line x1="638.5" y1="769.5" x2="650.5" y2="761.5" stroke="#FF7F32" stroke-width="1" stroke-dasharray="5.6 3.2 1.3 3"/>
<line x1="650.5" y1="761.5" x2="662.5" y2="761.5" stroke="#FF7F32" stroke-width="1" stroke-dasharray="5.6 3.2 1.3 3"/>
<line x1="662.5" y1="761.5" x2="674.5" y2="759.5" stroke="#FF7F32" stroke-width="1" stroke-dasharray="5.6 3.2 1.3 3"/>
<line x1="674.5" y1="759.5" x2="686.5" y2="758.5" stroke="#FF7F32" stroke-width="1" stroke-dasharray="5.6 3.2 1.3 3"/>
<rect x="100" y="739" width="7" height="7" fill="#FF7F32"/>
<rect x="112" y="743" width="7" height="7" fill="#FF7F32"/>
<rect x="124" y="744" width="7" height="7" fill="#FF7F32"/>
<rect x="136" y="749" width="7" height="7" fill="#FF7F32"/>
<rect x="148" y="751" width="7" height="7" fill="#FF7F32"/>
<rect x="160" y="755" width="7" height="7" fill="#FF7F32"/>
<rect x="172" y="761" width="7" height="7" fill="#FF7F32"/>
<rect x="184" y="764" width="7" height="7" fill="#FF7F32"/>
<rect x="195" y="769" width="7" height="7" fill="#FF7F32"/>
<rect x="207" y="773" width="7" height="7" fill="#FF7F32"/>
<rect x="219" y="773" width="7" height="7" fill="#FF7F32"/>
<rect x="231" y="775" width="7" height="7" fill="#FF7F32"/>
<rect x="243" y="781" width="7" height="7" fill="#FF7F32"/>
<rect x="255" y="787" width="7" height="7" fill="#FF7F32"/>
<rect x="267" y="785" width="7" height="7" fill="#FF7F32"/>
<rect x="279" y="784" width="7" height="7" fill="#FF7F32"/>
<rect x="291" y="787" width="7" height="7" fill="#FF7F32"/>
<rect x="303" y="786" width="7" height="7" fill="#FF7F32"/>
<rect x="314" y="790" width="7" height="7" fill="#FF7F32"/>
<rect x="326" y="793" width="7" height="7" fill="#FF7F32"/>
<rect x="338" y="793" width="7" height="7" fill="#FF7F32"/>
<rect x="350" y="795" width="7" height="7" fill="#FF7F32"/>
<rect x="362" y="797" width="7" height="7" fill="#FF7F32"/>
<rect x="374" y="796" width="7" height="7" fill="#FF7F32"/>
<rect x="386" y="794" width="7" height="7" fill="#FF7F32"/>
<rect x="398" y="797" width="7" height="7" fill="#FF7F32"/>
<rect x="410" y="796" width="7" height="7" fill="#FF7F32"/>
<rect x="421" y="792" width="7" height="7" fill="#FF7F32"/>
<rect x="433" y="798" width="7" height="7" fill="#FF7F32"/>
<rect x="445" y="797" width="7" height="7" fill="#FF7F32"/>
<rect x="457" y="796" width="7" height="7" fill="#FF7F32"/>
<rect x="469" y="796" width="7" height="7" fill="#FF7F32"/>
<rect x="481" y="792" width="7" height="7" fill="#FF7F32"/>
<rect x="493" y="795" width="7" height="7" fill="#FF7F32"/>
<rect x="505" y="792" width="7" height="7" fill="#FF7F32"/>
<rect x="517" y="791" width="7" height="7" fill="#FF7F32"/>
<rect x="528" y="787" width="7" height="7" fill="#FF7F32"/>
<rect x="540" y="783" width="7" height="7" fill="#FF7F32"/>
<rect x="552" y="783" width="7" height="7" fill="#FF7F32"/>
<rect x="564" y="780" width="7" height="7" fill="#FF7F32"/>
<rect x="576" y="777" width="7" height="7" fill="#FF7F32"/>
<rect x="588" y="777" width="7" height="7" fill="#FF7F32"/>
<rect x="600" y="775" width="7" height="7" fill="#FF7F32"/>
<rect x="612" y="770" width="7" height="7" fill="#FF7F32"/>
<rect x="624" y="768" width="7" height="7" fill="#FF7F32"/>
<rect x="635" y="766" width="7" height="7" fill="#FF7F32"/>
<rect x="647" y="758" width="7" height="7" fill="#FF7F32"/>
<rect x="659" y="758" width="7" height="7" fill="#FF7F32"/>
<rect x="671" y="756" width="7" height="7" fill="#FF7F32"/>
<rect x="683" y="755" width="7" height="7" fill="#FF7F32"/>
<polyline points="104.5,731.5 116.5,731.5 128.5,731.5 140.5,731.5 152.5,732.5 164.5,732.5 176.5,738.5 188.5,738.5 199.5,739.5 211.5,742.5 223.5,742.5 235.5,745.5 247.5,744.5 259.5,748.5 271.5,749.5 283.5,746.5 295.5,750.5 307.5,750.5 318.5,753.5 330.5,752.5 342.5,753.5 354.5,753.5 366.5,753.5 378.5,754.5 390.5,754.5 402.5,754.5 414.5,752.5 425.5,753.5 437.5,752.5 449.5,753.5 461.5,753.5 473.5,751.5 485.5,755.5 497.5,750.5 509.5,753.5 521.5,752.5 532.5,749.5 544.5,752.5 556.5,750.5 568.5,749.5 580.5,750.5 592.5,747.5 604.5,747.5 616.5,747.5 628.5,744.5 639.5,745.5 651.5,746.5 663.5,744.5 675.5,741.5 687.5,746.5" fill="none" stroke="#0000E0" stroke-width="1" />
<polygon points="100,735 108,735 104.5,726.6" fill="#0000E0"/>
<polygon points="112,735 120,735 116.5,726.6" fill="#0000E0"/>
<polygon points="124,735 132,735 128.5,726.6" fill="#0000E0"/>
<polygon points="136,735 144,735 140.5,726.6" fill="#0000E0"/>
<polygon points="148,736 156,736 152.5,727.6" fill="#0000E0"/>
<polygon points="160,736 168,736 164.5,727.6" fill="#0000E0"/>
<polygon points="172,742 180,742 176.5,733.6" fill="#0000E0"/>
<polygon points="184,742 192,742 188.5,733.6" fill="#0000E0"/>
<polygon points="195,743 203,743 199.5,734.6" fill="#0000E0"/>
<polygon points="207,746 215,746 211.5,737.6" fill="#0000E0"/>
<polygon points="219,746 227,746 223.5,737.6" fill="#0000E0"/>
<polygon points="231,749 239,749 235.5,740.6" fill="#0000E0"/>
<polygon points="243,748 251,748 247.5,739.6" fill="#0000E0"/>
<polygon points="255,752 263,752 259.5,743.6" fill="#0000E0"/>
<polygon points="267,753 275,753 271.5,744.6" fill="#0000E0"/>
<polygon points="279,750 287,750 283.5,741.6" fill="#0000E0"/>
<polygon points="291,754 299,754 295.5,745.6" fill="#0000E0"/>
<polygon points="303,754 311,754 307.5,745.6" fill="#0000E0"/>
<polygon points="314,757 322,757 318.5,748.6" fill="#0000E0"/>
<polygon points="326,756 334,756 330.5,747.6" fill="#0000E0"/>
<polygon points="338,757 346,757 342.5,748.6" fill="#0000E0"/>
<polygon points="350,757 358,757 354.5,748.6" fill="#0000E0"/>
<polygon points="362,757 370,757 366.5,748.6" fill="#0000E0"/>
<polygon points="374,758 382,758 378.5,749.6" fill="#0000E0"/>
<polygon points="386,758 394,758 390.5,749.6" fill="#0000E0"/>
<polygon points="398,758 406,758 402.5,749.6" fill="#0000E0"/>
<polygon points="410,756 418,756 414.5,747.6" fill="#0000E0"/>
<polygon points="421,757 429,757 425.5,748.6" fill="#0000E0"/>
<polygon points="433,756 441,756 437.5,747.6" fill="#0000E0"/>
<polygon points="445,757 453,757 449.5,748.6" fill="#0000E0"/>
<polygon points="457,757 465,757 461.5,748.6" fill="#0000E0"/>
<polygon points="469,755 477,755 473.5,746.6" fill="#0000E0"/>
<polygon points="481,759 489,759 485.5,750.6" fill="#0000E0"/>
<polygon points="493,754 501,754 497.5,745.6" fill="#0000E0"/>
<polygon points="505,757 513,757 509.5,748.6" fill="#0000E0"/>
<polygon points="517,756 525,756 521.5,747.6" fill="#0000E0"/>
<polygon points="528,753 536,753 532.5,744.6" fill="#0000E0"/>
<polygon points="540,756 548,756 544.5,747.6" fill="#0000E0"/>
<polygon points="552,754 560,754 556.5,745.6" fill="#0000E0"/>
<polygon points="564,753 572,753 568.5,744.6" fill="#0000E0"/>
<polygon points="576,754 584,754 580.5,745.6" fill="#0000E0"/>
<polygon points="588,751 596,751 592.5,742.6" fill="#0000E0"/>
<polygon points="600,751 608,751 604.5,742.6" fill="#0000E0"/>
<polygon points="612,751 620,751 616.5,742.6" fill="#0000E0"/>
<polygon points="624,748 632,748 628.5,739.6" fill="#0000E0"/>
<polygon points="635,749 643,749 639.5,740.6" fill="#0000E0"/>
<polygon points="647,750 655,750 651.5,741.6" fill="#0000E0"/>
<polygon points="659,748 667,748 663.5,739.6" fill="#0000E0"/>
<polygon points="671,745 679,745 675.5,736.6" fill="#0000E0"/>
<polygon points="683,750 691,750 687.5,741.6" fill="#0000E0"/>
</g>
<g shape-rendering="crispEdges" stroke="#000" stroke-width="1" fill="none">
<rect x="87.5" y="33.5" width="618.0" height="874.0"/>
<line x1="87.5" y1="603.5" x2="705.5" y2="603.5"/>
<line x1="98.5" y1="33.5" x2="98.5" y2="48.5"/>
<line x1="98.5" y1="588.5" x2="98.5" y2="613"/>
<line x1="98.5" y1="898" x2="98.5" y2="907.5"/>
<line x1="117.5" y1="33.5" x2="117.5" y2="38"/>
<line x1="117.5" y1="599" x2="117.5" y2="606"/>
<line x1="117.5" y1="904.5" x2="117.5" y2="907.5"/>
<line x1="136.5" y1="33.5" x2="136.5" y2="41.5"/>
<line x1="136.5" y1="595.5" x2="136.5" y2="608"/>
<line x1="136.5" y1="902" x2="136.5" y2="907.5"/>
<line x1="155.5" y1="33.5" x2="155.5" y2="38"/>
<line x1="155.5" y1="599" x2="155.5" y2="606"/>
<line x1="155.5" y1="904.5" x2="155.5" y2="907.5"/>
<line x1="174.5" y1="33.5" x2="174.5" y2="41.5"/>
<line x1="174.5" y1="595.5" x2="174.5" y2="608"/>
<line x1="174.5" y1="902" x2="174.5" y2="907.5"/>
<line x1="193.5" y1="33.5" x2="193.5" y2="38"/>
<line x1="193.5" y1="599" x2="193.5" y2="606"/>
<line x1="193.5" y1="904.5" x2="193.5" y2="907.5"/>
<line x1="212.5" y1="33.5" x2="212.5" y2="41.5"/>
<line x1="212.5" y1="595.5" x2="212.5" y2="608"/>
<line x1="212.5" y1="902" x2="212.5" y2="907.5"/>
<line x1="231.5" y1="33.5" x2="231.5" y2="38"/>
<line x1="231.5" y1="599" x2="231.5" y2="606"/>
<line x1="231.5" y1="904.5" x2="231.5" y2="907.5"/>
<line x1="250.5" y1="33.5" x2="250.5" y2="41.5"/>
<line x1="250.5" y1="595.5" x2="250.5" y2="608"/>
<line x1="250.5" y1="902" x2="250.5" y2="907.5"/>
<line x1="269.5" y1="33.5" x2="269.5" y2="38"/>
<line x1="269.5" y1="599" x2="269.5" y2="606"/>
<line x1="269.5" y1="904.5" x2="269.5" y2="907.5"/>
<line x1="288.5" y1="33.5" x2="288.5" y2="48.5"/>
<line x1="288.5" y1="588.5" x2="288.5" y2="613"/>
<line x1="288.5" y1="898" x2="288.5" y2="907.5"/>
<line x1="307.5" y1="33.5" x2="307.5" y2="38"/>
<line x1="307.5" y1="599" x2="307.5" y2="606"/>
<line x1="307.5" y1="904.5" x2="307.5" y2="907.5"/>
<line x1="326.5" y1="33.5" x2="326.5" y2="41.5"/>
<line x1="326.5" y1="595.5" x2="326.5" y2="608"/>
<line x1="326.5" y1="902" x2="326.5" y2="907.5"/>
<line x1="344.5" y1="33.5" x2="344.5" y2="38"/>
<line x1="344.5" y1="599" x2="344.5" y2="606"/>
<line x1="344.5" y1="904.5" x2="344.5" y2="907.5"/>
<line x1="363.5" y1="33.5" x2="363.5" y2="41.5"/>
<line x1="363.5" y1="595.5" x2="363.5" y2="608"/>
<line x1="363.5" y1="902" x2="363.5" y2="907.5"/>
<line x1="382.5" y1="33.5" x2="382.5" y2="38"/>
<line x1="382.5" y1="599" x2="382.5" y2="606"/>
<line x1="382.5" y1="904.5" x2="382.5" y2="907.5"/>
<line x1="401.5" y1="33.5" x2="401.5" y2="41.5"/>
<line x1="401.5" y1="595.5" x2="401.5" y2="608"/>
<line x1="401.5" y1="902" x2="401.5" y2="907.5"/>
<line x1="420.5" y1="33.5" x2="420.5" y2="38"/>
<line x1="420.5" y1="599" x2="420.5" y2="606"/>
<line x1="420.5" y1="904.5" x2="420.5" y2="907.5"/>
<line x1="439.5" y1="33.5" x2="439.5" y2="41.5"/>
<line x1="439.5" y1="595.5" x2="439.5" y2="608"/>
<line x1="439.5" y1="902" x2="439.5" y2="907.5"/>
<line x1="458.5" y1="33.5" x2="458.5" y2="38"/>
<line x1="458.5" y1="599" x2="458.5" y2="606"/>
<line x1="458.5" y1="904.5" x2="458.5" y2="907.5"/>
<line x1="477.5" y1="33.5" x2="477.5" y2="48.5"/>
<line x1="477.5" y1="588.5" x2="477.5" y2="613"/>
<line x1="477.5" y1="898" x2="477.5" y2="907.5"/>
<line x1="496.5" y1="33.5" x2="496.5" y2="38"/>
<line x1="496.5" y1="599" x2="496.5" y2="606"/>
<line x1="496.5" y1="904.5" x2="496.5" y2="907.5"/>
<line x1="515.5" y1="33.5" x2="515.5" y2="41.5"/>
<line x1="515.5" y1="595.5" x2="515.5" y2="608"/>
<line x1="515.5" y1="902" x2="515.5" y2="907.5"/>
<line x1="534.5" y1="33.5" x2="534.5" y2="38"/>
<line x1="534.5" y1="599" x2="534.5" y2="606"/>
<line x1="534.5" y1="904.5" x2="534.5" y2="907.5"/>
<line x1="553.5" y1="33.5" x2="553.5" y2="41.5"/>
<line x1="553.5" y1="595.5" x2="553.5" y2="608"/>
<line x1="553.5" y1="902" x2="553.5" y2="907.5"/>
<line x1="571.5" y1="33.5" x2="571.5" y2="38"/>
<line x1="571.5" y1="599" x2="571.5" y2="606"/>
<line x1="571.5" y1="904.5" x2="571.5" y2="907.5"/>
<line x1="590.5" y1="33.5" x2="590.5" y2="41.5"/>
<line x1="590.5" y1="595.5" x2="590.5" y2="608"/>
<line x1="590.5" y1="902" x2="590.5" y2="907.5"/>
<line x1="609.5" y1="33.5" x2="609.5" y2="38"/>
<line x1="609.5" y1="599" x2="609.5" y2="606"/>
<line x1="609.5" y1="904.5" x2="609.5" y2="907.5"/>
<line x1="628.5" y1="33.5" x2="628.5" y2="41.5"/>
<line x1="628.5" y1="595.5" x2="628.5" y2="608"/>
<line x1="628.5" y1="902" x2="628.5" y2="907.5"/>
<line x1="647.5" y1="33.5" x2="647.5" y2="38"/>
<line x1="647.5" y1="599" x2="647.5" y2="606"/>
<line x1="647.5" y1="904.5" x2="647.5" y2="907.5"/>
<line x1="666.5" y1="33.5" x2="666.5" y2="48.5"/>
<line x1="666.5" y1="588.5" x2="666.5" y2="613"/>
<line x1="666.5" y1="898" x2="666.5" y2="907.5"/>
<line x1="685.5" y1="33.5" x2="685.5" y2="38"/>
<line x1="685.5" y1="599" x2="685.5" y2="606"/>
<line x1="685.5" y1="904.5" x2="685.5" y2="907.5"/>
<line x1="704.5" y1="33.5" x2="704.5" y2="41.5"/>
<line x1="704.5" y1="595.5" x2="704.5" y2="608"/>
<line x1="704.5" y1="902" x2="704.5" y2="907.5"/>
<line x1="87.5" y1="581.5" x2="98" y2="581.5"/>
<line x1="694" y1="581.5" x2="705.5" y2="581.5"/>
<line x1="87.5" y1="560.5" x2="98" y2="560.5"/>
<line x1="694" y1="560.5" x2="705.5" y2="560.5"/>
<line x1="87.5" y1="539.5" x2="98" y2="539.5"/>
<line x1="694" y1="539.5" x2="705.5" y2="539.5"/>
<line x1="87.5" y1="518.5" x2="109" y2="518.5"/>
<line x1="684" y1="518.5" x2="705.5" y2="518.5"/>
<line x1="87.5" y1="496.5" x2="98" y2="496.5"/>
<line x1="694" y1="496.5" x2="705.5" y2="496.5"/>
<line x1="87.5" y1="475.5" x2="98" y2="475.5"/>
<line x1="694" y1="475.5" x2="705.5" y2="475.5"/>
<line x1="87.5" y1="454.5" x2="98" y2="454.5"/>
<line x1="694" y1="454.5" x2="705.5" y2="454.5"/>
<line x1="87.5" y1="433.5" x2="109" y2="433.5"/>
<line x1="684" y1="433.5" x2="705.5" y2="433.5"/>
<line x1="87.5" y1="412.5" x2="98" y2="412.5"/>
<line x1="694" y1="412.5" x2="705.5" y2="412.5"/>
<line x1="87.5" y1="390.5" x2="98" y2="390.5"/>
<line x1="694" y1="390.5" x2="705.5" y2="390.5"/>
<line x1="87.5" y1="369.5" x2="98" y2="369.5"/>
<line x1="694" y1="369.5" x2="705.5" y2="369.5"/>
<line x1="87.5" y1="348.5" x2="109" y2="348.5"/>
<line x1="684" y1="348.5" x2="705.5" y2="348.5"/>
<line x1="87.5" y1="327.5" x2="98" y2="327.5"/>
<line x1="694" y1="327.5" x2="705.5" y2="327.5"/>
<line x1="87.5" y1="305.5" x2="98" y2="305.5"/>
<line x1="694" y1="305.5" x2="705.5" y2="305.5"/>
<line x1="87.5" y1="284.5" x2="98" y2="284.5"/>
<line x1="694" y1="284.5" x2="705.5" y2="284.5"/>
<line x1="87.5" y1="263.5" x2="109" y2="263.5"/>
<line x1="684" y1="263.5" x2="705.5" y2="263.5"/>
<line x1="87.5" y1="242.5" x2="98" y2="242.5"/>
<line x1="694" y1="242.5" x2="705.5" y2="242.5"/>
<line x1="87.5" y1="220.5" x2="98" y2="220.5"/>
<line x1="694" y1="220.5" x2="705.5" y2="220.5"/>
<line x1="87.5" y1="199.5" x2="98" y2="199.5"/>
<line x1="694" y1="199.5" x2="705.5" y2="199.5"/>
<line x1="87.5" y1="178.5" x2="109" y2="178.5"/>
<line x1="684" y1="178.5" x2="705.5" y2="178.5"/>
<line x1="87.5" y1="157.5" x2="98" y2="157.5"/>
<line x1="694" y1="157.5" x2="705.5" y2="157.5"/>
<line x1="87.5" y1="136.5" x2="98" y2="136.5"/>
<line x1="694" y1="136.5" x2="705.5" y2="136.5"/>
<line x1="87.5" y1="114.5" x2="98" y2="114.5"/>
<line x1="694" y1="114.5" x2="705.5" y2="114.5"/>
<line x1="87.5" y1="93.5" x2="109" y2="93.5"/>
<line x1="684" y1="93.5" x2="705.5" y2="93.5"/>
<line x1="87.5" y1="72.5" x2="98" y2="72.5"/>
<line x1="694" y1="72.5" x2="705.5" y2="72.5"/>
<line x1="87.5" y1="51.5" x2="98" y2="51.5"/>
<line x1="694" y1="51.5" x2="705.5" y2="51.5"/>
<line x1="87.5" y1="870.5" x2="101" y2="870.5"/>
<line x1="691.5" y1="870.5" x2="705.5" y2="870.5"/>
<line x1="87.5" y1="840.5" x2="97" y2="840.5"/>
<line x1="696" y1="840.5" x2="705.5" y2="840.5"/>
<line x1="87.5" y1="814.5" x2="97" y2="814.5"/>
<line x1="696" y1="814.5" x2="705.5" y2="814.5"/>
<line x1="87.5" y1="792.5" x2="97" y2="792.5"/>
<line x1="696" y1="792.5" x2="705.5" y2="792.5"/>
<line x1="87.5" y1="773.5" x2="97" y2="773.5"/>
<line x1="696" y1="773.5" x2="705.5" y2="773.5"/>
<line x1="87.5" y1="755.5" x2="106" y2="755.5"/>
<line x1="687" y1="755.5" x2="705.5" y2="755.5"/>
<line x1="87.5" y1="739.5" x2="97" y2="739.5"/>
<line x1="696" y1="739.5" x2="705.5" y2="739.5"/>
<line x1="87.5" y1="725.5" x2="97" y2="725.5"/>
<line x1="696" y1="725.5" x2="705.5" y2="725.5"/>
<line x1="87.5" y1="711.5" x2="97" y2="711.5"/>
<line x1="696" y1="711.5" x2="705.5" y2="711.5"/>
<line x1="87.5" y1="699.5" x2="97" y2="699.5"/>
<line x1="696" y1="699.5" x2="705.5" y2="699.5"/>
<line x1="87.5" y1="688.5" x2="101" y2="688.5"/>
<line x1="691.5" y1="688.5" x2="705.5" y2="688.5"/>
<line x1="87.5" y1="677.5" x2="97" y2="677.5"/>
<line x1="696" y1="677.5" x2="705.5" y2="677.5"/>
<line x1="87.5" y1="667.5" x2="97" y2="667.5"/>
<line x1="696" y1="667.5" x2="705.5" y2="667.5"/>
<line x1="87.5" y1="657.5" x2="97" y2="657.5"/>
<line x1="696" y1="657.5" x2="705.5" y2="657.5"/>
<line x1="87.5" y1="648.5" x2="97" y2="648.5"/>
<line x1="696" y1="648.5" x2="705.5" y2="648.5"/>
<line x1="87.5" y1="640.5" x2="101" y2="640.5"/>
<line x1="691.5" y1="640.5" x2="705.5" y2="640.5"/>
<line x1="87.5" y1="632.5" x2="97" y2="632.5"/>
<line x1="696" y1="632.5" x2="705.5" y2="632.5"/>
<line x1="87.5" y1="624.5" x2="97" y2="624.5"/>
<line x1="696" y1="624.5" x2="705.5" y2="624.5"/>
<line x1="87.5" y1="617.5" x2="97" y2="617.5"/>
<line x1="696" y1="617.5" x2="705.5" y2="617.5"/>
<line x1="87.5" y1="609.5" x2="97" y2="609.5"/>
<line x1="696" y1="609.5" x2="705.5" y2="609.5"/>
</g>
<text transform="translate(97.28,27.30) scale(0.9892,1)" font-size="22.1" fill="#000"  stroke="#000" stroke-width="0.22">7000 GeV pp</text>
<text transform="translate(523.05,27.30) scale(0.9668,1)" font-size="22.1" fill="#000"  stroke="#000" stroke-width="0.22">Underlying Event</text>
<text transform="translate(48.22,526.35) scale(0.97,1)" font-size="22.3"  stroke="#000" stroke-width="0.22">0.2</text>
<text transform="translate(47.76,441.35) scale(0.97,1)" font-size="22.3"  stroke="#000" stroke-width="0.22">0.4</text>
<text transform="translate(48.08,356.35) scale(0.97,1)" font-size="22.3"  stroke="#000" stroke-width="0.22">0.6</text>
<text transform="translate(48.07,271.35) scale(0.97,1)" font-size="22.3"  stroke="#000" stroke-width="0.22">0.8</text>
<text transform="translate(60.25,101.35) scale(0.97,1)" font-size="22.3"  stroke="#000" stroke-width="0.22">.2</text>
<path transform="translate(74.80,186.35)" d="M0,0H2.3V-15.5H0.7Q-0.3,-13.2 -3.75,-12.5V-11.0L0,-12.1Z" fill="#000"/>
<path transform="translate(54.95,101.35)" d="M0,0H2.3V-15.5H0.7Q-0.3,-13.2 -3.75,-12.5V-11.0L0,-12.1Z" fill="#000"/>
<clipPath id="c0"><rect x="0" y="0" width="746" height="603"/></clipPath>
<g clip-path="url(#c0)">
<text transform="translate(66.11,610.80) scale(0.97,1)" font-size="22.3"  stroke="#000" stroke-width="0.22">0</text>
</g>
<text transform="translate(61.36,645.90) scale(0.97,1)" font-size="22.3"  stroke="#000" stroke-width="0.22">2</text>
<path transform="translate(68.90,764.00)" d="M0,0H2.3V-15.5H0.7Q-0.3,-13.2 -3.75,-12.5V-11.0L0,-12.1Z" fill="#000"/>
<text transform="translate(43.94,876.40) scale(0.97,1)" font-size="22.3"  stroke="#000" stroke-width="0.22">0.5</text>
<text transform="translate(710.71,645.80) scale(0.97,1)" font-size="22.3" stroke="#000" stroke-width="0.22">2</text>
<path transform="translate(716.80,761.80)" d="M0,0H2.3V-15.5H0.7Q-0.3,-13.2 -3.75,-12.5V-11.0L0,-12.1Z" fill="#000"/>
<text transform="translate(710.96,876.30) scale(0.97,1)" font-size="22.3" stroke="#000" stroke-width="0.22">0.5</text>
<path transform="translate(289.70,927.90)" d="M0,0H2.3V-15.5H0.7Q-0.3,-13.2 -3.75,-12.5V-11.0L0,-12.1Z" fill="#000"/>
<text transform="translate(91.98,928.1) scale(0.97,1)" font-size="22.3" stroke="#000" stroke-width="0.22">0</text>
<text transform="translate(471.18,928.1) scale(0.97,1)" font-size="22.3" stroke="#000" stroke-width="0.22">2</text>
<text transform="translate(659.95,928.1) scale(0.97,1)" font-size="22.3" stroke="#000" stroke-width="0.22">3</text>
<text transform="translate(417.83,955.80) scale(0.9119,1)" font-size="23.0" fill="#000"  stroke="#000" stroke-width="0.22">|</text>
<text transform="translate(421.62,955.80) scale(1.0480,1)" font-size="25" fill="#000" font-family="'Liberation Serif',serif"  stroke="#000" stroke-width="0.22">ϕ</text>
<text transform="translate(434.43,955.80) scale(0.9119,1)" font-size="23.0" fill="#000"  stroke="#000" stroke-width="0.22">|</text>
<text transform="translate(446.36,955.80) scale(0.9643,1)" font-size="24.0" fill="#000"  stroke="#000" stroke-width="0.22">(w.r.t.</text>
<text transform="translate(510.11,955.80) scale(0.9820,1)" font-size="24.0" fill="#000"  stroke="#000" stroke-width="0.22">leading</text>
<text transform="translate(592.54,955.80) scale(0.9854,1)" font-size="24.0" fill="#000"  stroke="#000" stroke-width="0.22">track)</text>
<text transform="translate(658.71,955.80) scale(0.9888,1)" font-size="24.0" fill="#000"  stroke="#000" stroke-width="0.22">[rad]</text>
<text transform="translate(34.50,812.37) rotate(-90) scale(0.9145,1)" font-size="18.3" fill="#000" stroke="#000" stroke-width="0.22">Ratio to ATLAS</text>
<text transform="translate(722.10,242.14) rotate(-90) scale(0.9998,1)" font-size="17.5" fill="#666666" stroke="#666666" stroke-width="0.22">Rivet</text>
<text transform="translate(722.10,199.33) rotate(-90) scale(1.0811,1)" font-size="17.5" fill="#666666" stroke="#666666" stroke-width="0.22">4.1.0,</text>
<text transform="translate(722.40,146.41) rotate(-90) scale(1.0714,1)" font-size="19.5" fill="#666666" stroke="#666666" stroke-width="0.22">≥</text>
<text transform="translate(722.10,130.94) rotate(-90) scale(1.0043,1)" font-size="17.5" fill="#666666" stroke="#666666" stroke-width="0.22">100k</text>
<text transform="translate(722.10,87.13) rotate(-90) scale(0.9844,1)" font-size="17.5" fill="#666666" stroke="#666666" stroke-width="0.22">events</text>
<text transform="translate(722.30,596.57) rotate(-90) scale(1.0063,1)" font-size="17.5" fill="#666666" stroke="#666666" stroke-width="0.22">mcplots.cern.ch</text>
<text transform="translate(722.30,468.77) rotate(-90) scale(1.0150,1)" font-size="17.5" fill="#666666" stroke="#666666" stroke-width="0.22">[arXiv:1306.3436]</text>
<text transform="translate(315.06,571.10) scale(1.0001,1)" font-size="15.1" fill="#999"  stroke="#999" stroke-width="0.22">(ATLAS_2010_I879407)</text>
<g shape-rendering="crispEdges">
<rect x="140" y="113" width="10" height="10" fill="#000"/>
<line x1="122" y1="143.5" x2="169" y2="143.5" stroke="#99001A" stroke-width="1" />
<polygon points="139.5,148.5 150.5,148.5 145.3,137.5" fill="none" stroke="#99001A" stroke-width="1"/>
<line x1="122" y1="167.5" x2="169" y2="167.5" stroke="#FF7F32" stroke-width="1" stroke-dasharray="5 3 1.3 3"/>
<rect x="141" y="163" width="7" height="7" fill="#FF7F32"/>
<line x1="122" y1="192.5" x2="169" y2="192.5" stroke="#0000E0" stroke-width="1" />
<polygon points="141,196 149,196 145.5,187.6" fill="#0000E0"/>
</g>
<text transform="translate(178.47,123.20) scale(1.0201,1)" font-size="17.5" fill="#000"  stroke="#000" stroke-width="0.22">ATLAS</text>
<text x="178.3" y="148" font-size="17.5" text-anchor="start" fill="#000"  stroke="#000" stroke-width="0.22">Pythia 6.427 370</text>
<text x="178.3" y="172.6" font-size="17.5" text-anchor="start" fill="#000"  stroke="#000" stroke-width="0.22">Pythia 6.427 default</text>
<text x="178.3" y="197.5" font-size="17.5" text-anchor="start" fill="#000"  stroke="#000" stroke-width="0.22">Pythia 8.243 default</text>
<text transform="translate(169.05,79.60) scale(1.0544,1)" font-size="21.3" fill="#000"  stroke="#000" stroke-width="0.22">p</text>
<text transform="translate(182.35,92.30) scale(1.0396,1)" font-size="14.8" fill="#000"  stroke="#000" stroke-width="0.22">T</text>
<text transform="translate(197.10,79.60) scale(1.0112,1)" font-size="21.3" fill="#000"  stroke="#000" stroke-width="0.22">density</text>
<text transform="translate(271.93,79.60) scale(1.0000,1)" font-size="21.3" fill="#000"  stroke="#000" stroke-width="0.22">vs.</text>
<text transform="translate(306.06,79.60) scale(1.1319,1)" font-size="21.8" fill="#000" font-family="'Liberation Serif',serif"  stroke="#000" stroke-width="0.22">Δ</text>
<text transform="translate(320.81,79.60) scale(1.0247,1)" font-size="22.8" fill="#000" font-family="'Liberation Serif',serif"  stroke="#000" stroke-width="0.22">ϕ</text>
<text transform="translate(332.39,79.60) scale(1.0524,1)" font-size="21.3" fill="#000"  stroke="#000" stroke-width="0.22">,</text>
<text transform="translate(345.70,79.60) scale(1.0231,1)" font-size="21.3" fill="#000"  stroke="#000" stroke-width="0.22">p</text>
<text transform="translate(358.19,68.90) scale(1.0081,1)" font-size="13.8" fill="#000"  stroke="#000" stroke-width="0.22">trk1</text>
<text transform="translate(359.54,92.30) scale(1.0755,1)" font-size="14.8" fill="#000"  stroke="#000" stroke-width="0.22">T</text>
<text transform="translate(385.84,79.60) scale(1.1016,1)" font-size="21.3" fill="#000"  stroke="#000" stroke-width="0.22">&gt;</text>
<text transform="translate(406.16,79.60) scale(0.9464,1)" font-size="21.3" fill="#000"  stroke="#000" stroke-width="0.22">1.0</text>
<text transform="translate(439.90,79.60) scale(1.0230,1)" font-size="21.3" fill="#000"  stroke="#000" stroke-width="0.22">GeV,</text>
<text transform="translate(511.39,79.60) scale(1.0336,1)" font-size="21.3" fill="#000"  stroke="#000" stroke-width="0.22">s</text>
<text transform="translate(527.07,79.60) scale(1.0823,1)" font-size="21.3" fill="#000"  stroke="#000" stroke-width="0.22">=</text>
<text transform="translate(546.15,79.60) scale(1.0026,1)" font-size="21.3" fill="#000"  stroke="#000" stroke-width="0.22">{7 TeV}</text>
<polyline points="502.6,68.4 504.0,67.5 506.5,80.3 509.8,62.0 522.9,62.0" fill="none" stroke="#000" stroke-width="0.9" stroke-linejoin="miter"/>
<g transform="translate(29.2,177.3) rotate(-90)">
<text transform="translate(-0.08,0) scale(0.8649,1)" font-size="22.2"  stroke="#000" stroke-width="0.22">#</text>
<text transform="translate(20.48,0) scale(0.9916,1)" font-size="22.2"  stroke="#000" stroke-width="0.22">d</text>
<text transform="translate(32.08,-11.5) scale(1.0829,1)" font-size="15"  stroke="#000" stroke-width="0.22">2</text>
<text transform="translate(45.77,0) scale(1.0718,1)" font-size="22.2"  stroke="#000" stroke-width="0.22">p</text>
<text transform="translate(58.46,12.7) scale(0.9941,1)" font-size="15.3"  stroke="#000" stroke-width="0.22">T</text>
<text transform="translate(68.70,0) scale(0.9404,1)" font-size="22.2"  stroke="#000" stroke-width="0.22">/</text>
<text transform="translate(74.81,0) scale(0.9516,1)" font-size="22.2"  stroke="#000" stroke-width="0.22">d</text>
<text transform="translate(87.25,0) scale(0.9756,1)" font-size="23.2" font-family="'Liberation Serif',serif"  stroke="#000" stroke-width="0.22">η</text>
<text transform="translate(101.11,0) scale(0.9516,1)" font-size="22.2"  stroke="#000" stroke-width="0.22">d</text>
<text transform="translate(112.37,0) scale(0.9120,1)" font-size="23.7" font-family="'Liberation Serif',serif"  stroke="#000" stroke-width="0.22">ϕ</text>
<text transform="translate(124.91,0) scale(0.8731,1)" font-size="22.2"  stroke="#000" stroke-width="0.22">#</text>
<polyline points="19.3,-16.5 13.6,-6.9 19.3,2.9" fill="none" stroke="#000" stroke-width="1.1"/>
<polyline points="138.6,-16.9 144.0,-7.0 138.6,2.9" fill="none" stroke="#000" stroke-width="1.1"/>
</g>
</svg>
</body></html>
